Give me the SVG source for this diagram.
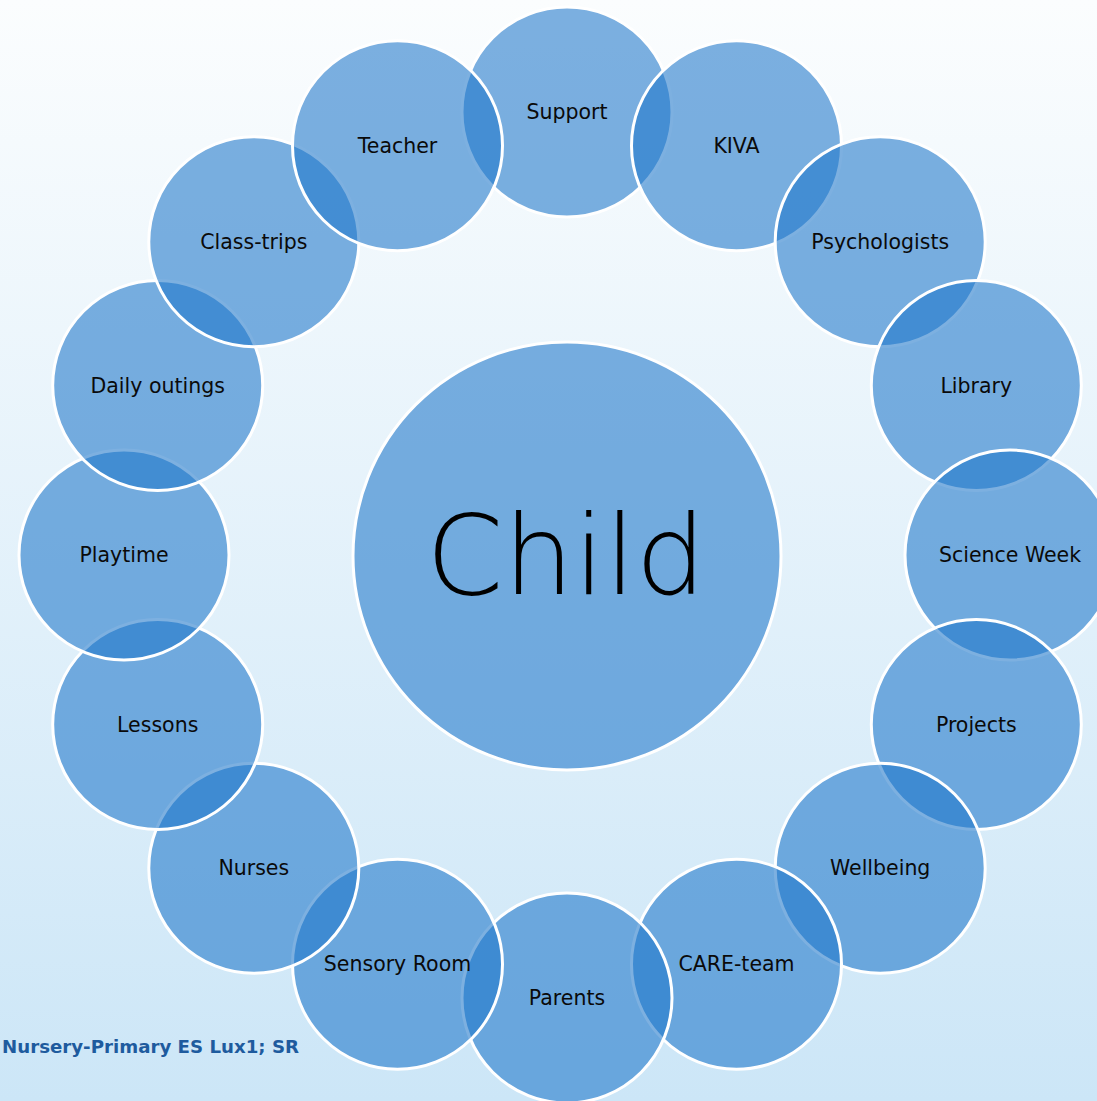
<svg xmlns="http://www.w3.org/2000/svg" width="1097" height="1101" viewBox="0 0 1097 1101">
<defs>
<linearGradient id="bg" x1="0" y1="0" x2="0" y2="1">
<stop offset="0" stop-color="#fbfdfe"/>
<stop offset="1" stop-color="#cce6f7"/>
</linearGradient>
</defs>
<style>
.c{fill:#1f77c9;fill-opacity:0.58;stroke:#ffffff;stroke-width:3}
.t{font-family:"DejaVu Sans","Liberation Sans",sans-serif;font-size:20.5px;fill:#0a0a0a;text-anchor:middle}
.big{font-family:"DejaVu Sans","Liberation Sans",sans-serif;font-size:111px;font-weight:200;fill:#000;text-anchor:middle}
.foot{font-family:"DejaVu Sans","Liberation Sans",sans-serif;font-size:18.2px;font-weight:bold;fill:#1e5b9e}
</style>
<rect width="1097" height="1101" fill="url(#bg)"/>
<g id="connectors"/>
<g id="child"><circle class="c" cx="567" cy="556" r="214"/><text class="big" x="566" y="594">Child</text></g>
<g id="support"><circle class="c" cx="567" cy="112" r="105"/><text class="t" x="567" y="119">Support</text></g>
<g id="kiva"><circle class="c" cx="736.5" cy="145.7" r="105"/><text class="t" x="736.5" y="152.7">KIVA</text></g>
<g id="psychologists"><circle class="c" cx="880.2" cy="241.8" r="105"/><text class="t" x="880.2" y="248.8">Psychologists</text></g>
<g id="library"><circle class="c" cx="976.3" cy="385.5" r="105"/><text class="t" x="976.3" y="392.5">Library</text></g>
<g id="science-week"><circle class="c" cx="1010" cy="555" r="105"/><text class="t" x="1010" y="562">Science Week</text></g>
<g id="projects"><circle class="c" cx="976.3" cy="724.5" r="105"/><text class="t" x="976.3" y="731.5">Projects</text></g>
<g id="wellbeing"><circle class="c" cx="880.2" cy="868.2" r="105"/><text class="t" x="880.2" y="875.2">Wellbeing</text></g>
<g id="care-team"><circle class="c" cx="736.5" cy="964.3" r="105"/><text class="t" x="736.5" y="971.3">CARE-team</text></g>
<g id="parents"><circle class="c" cx="567" cy="998" r="105"/><text class="t" x="567" y="1005">Parents</text></g>
<g id="sensory-room"><circle class="c" cx="397.5" cy="964.3" r="105"/><text class="t" x="397.5" y="971.3">Sensory Room</text></g>
<g id="nurses"><circle class="c" cx="253.8" cy="868.2" r="105"/><text class="t" x="253.8" y="875.2">Nurses</text></g>
<g id="lessons"><circle class="c" cx="157.7" cy="724.5" r="105"/><text class="t" x="157.7" y="731.5">Lessons</text></g>
<g id="playtime"><circle class="c" cx="124" cy="555" r="105"/><text class="t" x="124" y="562">Playtime</text></g>
<g id="daily-outings"><circle class="c" cx="157.7" cy="385.5" r="105"/><text class="t" x="157.7" y="392.5">Daily outings</text></g>
<g id="class-trips"><circle class="c" cx="253.8" cy="241.8" r="105"/><text class="t" x="253.8" y="248.8">Class-trips</text></g>
<g id="teacher"><circle class="c" cx="397.5" cy="145.7" r="105"/><text class="t" x="397.5" y="152.7">Teacher</text></g>
<text class="foot" x="2" y="1053">Nursery-Primary ES Lux1; SR</text>
</svg>
